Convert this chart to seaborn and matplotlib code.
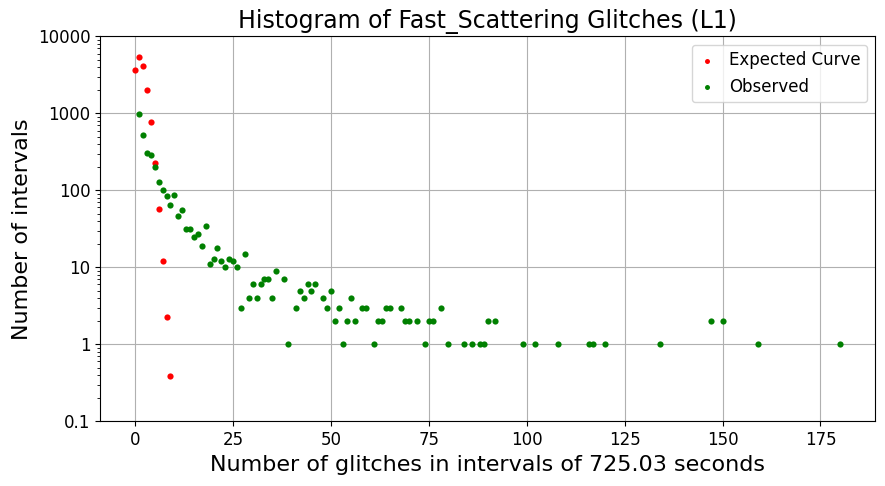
import matplotlib
matplotlib.use("Agg")
import matplotlib.pyplot as plt
import matplotlib.ticker as mticker
import seaborn as sns
import pandas as pd

expected_x = [0, 1, 2, 3, 4, 5, 6, 7, 8, 9]
expected_y = [3700, 5450, 4170, 2030, 780, 229, 58, 12.2, 2.29, 0.384]

observed_x = [1, 2, 3, 4, 5, 6, 7, 8, 9, 10, 11, 12, 13, 14, 15, 16, 17, 18, 19, 20,
              21, 22, 23, 24, 25, 26, 27, 28, 29, 30, 31, 32, 33, 34, 35, 36, 38, 39,
              41, 42, 43, 44, 45, 46, 48, 49, 50, 51, 52, 53, 54, 55, 56, 58, 59, 61,
              62, 63, 64, 65, 68, 69, 70, 72, 74, 75, 76, 78, 80, 84, 86, 88, 89, 90,
              92, 99, 102, 108, 116, 117, 120, 134, 147, 150, 159, 180]
observed_y = [970, 527, 309, 290, 199, 129, 101, 85, 65, 88, 47, 56, 32, 32, 25, 27, 19, 35, 11, 13,
              18, 12, 10, 13, 12, 10, 3, 15, 4, 6, 4, 6, 7, 7, 4, 9, 7, 1,
              3, 5, 4, 6, 5, 6, 4, 3, 5, 2, 3, 1, 2, 4, 2, 3, 3, 1,
              2, 2, 3, 3, 3, 2, 2, 2, 1, 2, 2, 3, 1, 1, 1, 1, 1, 2,
              2, 1, 1, 1, 1, 1, 1, 1, 2, 2, 1, 1]

title = "Histogram of Fast_Scattering Glitches (L1)"
xlabel = "Number of glitches in intervals of 725.03 seconds"
ylabel = "Number of intervals"

df_exp = pd.DataFrame({"x": expected_x, "y": expected_y})
df_obs = pd.DataFrame({"x": observed_x, "y": observed_y})

fig = plt.figure(figsize=(8.85, 4.86), dpi=100)
ax = fig.add_axes([0.113, 0.133, 0.876, 0.792])

sns.scatterplot(data=df_exp, x="x", y="y", ax=ax, color="red", s=20,
                linewidth=0, label="Expected Curve", zorder=3)
sns.scatterplot(data=df_obs, x="x", y="y", ax=ax, color="green", s=20,
                linewidth=0, label="Observed", zorder=3)

ax.set_yscale("log")
ax.set_ylim(0.1, 10000)
ax.yaxis.set_major_locator(mticker.LogLocator(base=10, numticks=10))
ax.yaxis.set_minor_locator(mticker.LogLocator(base=10, subs=range(2, 10), numticks=20))
ax.yaxis.set_minor_formatter(mticker.NullFormatter())
ax.yaxis.set_major_formatter(mticker.FuncFormatter(lambda v, _: f"{v:g}"))
ax.grid(True, which="major", color="#b0b0b0", linewidth=0.8)
ax.set_axisbelow(True)

ax.set_title(title, fontsize=17)
ax.set_xlabel(xlabel, fontsize=16)
ax.set_ylabel(ylabel, fontsize=16)
ax.tick_params(axis="both", which="major", labelsize=12)

ax.legend(loc="upper right", fontsize=12, handlelength=1.0, markerscale=0.8)

fig.savefig("out.png", dpi=100)
